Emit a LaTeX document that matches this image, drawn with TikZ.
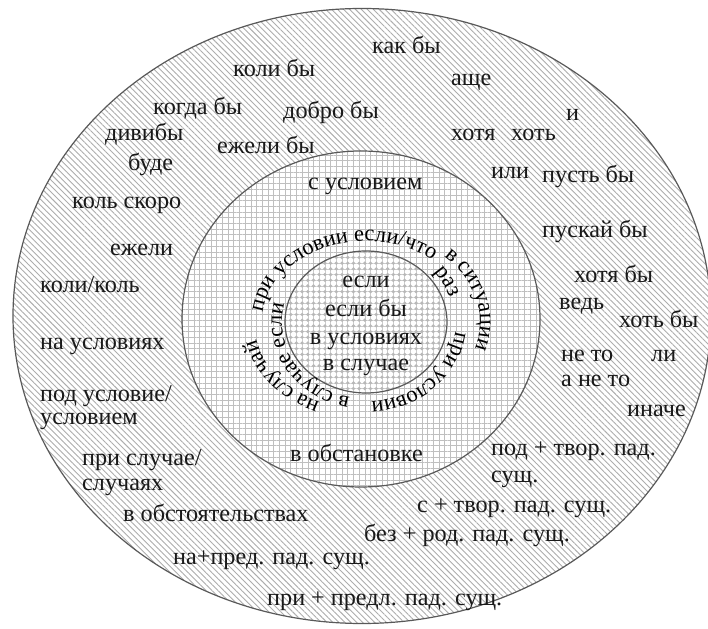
\documentclass[tikz,border=0pt]{standalone}
\usepackage{fontspec}
\setmainfont{Liberation Serif}
\usetikzlibrary{patterns.meta,decorations.text}
\newcommand\mylbl{\fontsize{24.2}{27}\selectfont}
\newcommand\myarc{\fontsize{22.5}{26}\selectfont}
\begin{document}
\begin{tikzpicture}[x=1pt,y=1pt,
  lbl/.style={anchor=base west, inner sep=0pt, font=\mylbl, text=black!90},
  ctr/.style={anchor=base, inner sep=0pt, font=\mylbl, text=black!90},
  rim/.style={draw=black!65, line width=1.2pt},
  arctext/.style={decorate, decoration={text along path, text={|\myarc|#1}, text align=center}}]
\useasboundingbox (0,0) rectangle (708,628);
\clip (0,0) rectangle (708,628);
\fill[white] (0,0) rectangle (708,628);
% outer ring
\path[pattern={Lines[angle=-45,distance=4.2pt,line width=0.9pt]}, pattern color=black!32] (362,312) ellipse[x radius=349, y radius=307.5];
\draw[rim] (362,312) ellipse[x radius=349, y radius=307.5];
% middle ring
\fill[white] (361,309) ellipse[x radius=179, y radius=168];
\path[pattern={Hatch[distance=5.7pt,line width=0.5pt]}, pattern color=black!25] (361,309) ellipse[x radius=179, y radius=168];
\draw[rim] (361,309) ellipse[x radius=179, y radius=168];
% inner
\fill[white] (366,306) ellipse[x radius=81, y radius=71];
\path[pattern={Hatch[distance=5.7pt,line width=0.5pt]}, pattern color=black!20] (366,306) ellipse[x radius=81, y radius=71];
\path[pattern={Dots[distance=5.7pt,radius=1.8pt]}, pattern color=black!28] (366,306) ellipse[x radius=81, y radius=71];
\draw[rim] (366,306) ellipse[x radius=81, y radius=71];

% centre words
\node[ctr] (c1) at (366,340) {если};
\node[ctr] (c2) at (366,311) {если бы};
\node[ctr] (c3) at (366,283) {в условиях};
\node[ctr] (c4) at (366,257) {в случае};

% arc texts
\begin{scope}[shift={(366,306)}]
\path[arctext={при условии если/что}] (185:104 and 81) arc[start angle=185, end angle=40, x radius=104, y radius=81];
\path[arctext={в ситуации}] (58:114 and 90) arc[start angle=58, end angle=-30, x radius=114, y radius=90];
\path[arctext={раз}] (45:88 and 80) arc[start angle=45, end angle=11, x radius=88, y radius=80];
\path[arctext={при условии}] (6:90 and 80) arc[start angle=6, end angle=-98, x radius=90, y radius=80];
\path[arctext={в случае если}] (278:84 and 77) arc[start angle=278, end angle=146, x radius=84, y radius=77];
\path[arctext={на случай}] (258:112 and 88) arc[start angle=258, end angle=176, x radius=112, y radius=88];
\end{scope}

% middle ring words
\node[lbl] (suslov) at (308,438) {с условием};
\node[lbl] (vobstan) at (290,166) {в обстановке};

% outer ring words
\node[lbl] (kak) at (372,574) {как бы};
\node[lbl] (koli) at (233,551) {коли бы};
\node[lbl] (ashche) at (451,542) {аще};
\node[lbl] (kogda) at (153,513) {когда бы};
\node[lbl] (dobro) at (283,509) {добро бы};
\node[lbl] (i) at (566,507) {и};
\node[lbl] (divi) at (105,487) {дивибы};
\node[lbl] (khotya) at (451,487) {хотя};
\node[lbl] (khot) at (511,487) {хоть};
\node[lbl] (ezhelib) at (217,474) {ежели бы};
\node[lbl] (bude) at (128,457) {буде};
\node[lbl] (ili) at (491,449) {или};
\node[lbl] (pust) at (542,445) {пусть бы};
\node[lbl] (kolsk) at (72,419) {коль скоро};
\node[lbl] (puskai) at (542,390) {пускай бы};
\node[lbl] (ezheli) at (110,372) {ежели};
\node[lbl] (khotyab) at (574,345) {хотя бы};
\node[lbl] (kolikol) at (40,335) {коли/коль};
\node[lbl] (ved) at (559,318) {ведь};
\node[lbl] (khotb) at (619,300) {хоть бы};
\node[lbl] (nauslov) at (40,278) {на условиях};
\node[lbl] (neto) at (561,266) {не то};
\node[lbl] (li) at (651,266) {ли};
\node[lbl] (aneto) at (561,241) {а не то};
\node[lbl] (pod1) at (40,226) {под условие/};
\node[lbl] (pod2) at (40,203) {условием};
\node[lbl] (inache) at (627,211) {иначе};
\node[lbl] (podtv1) at (491,172) {под + твор. пад.};
\node[lbl] (prisl1) at (82,162) {при случае/};
\node[lbl] (podtv2) at (491,145) {сущ.};
\node[lbl] (prisl2) at (82,137) {случаях};
\node[lbl] (stv) at (417,115) {с + твор. пад. сущ.};
\node[lbl] (vobst) at (123,106) {в обстоятельствах};
\node[lbl] (bez) at (364,86) {без + род. пад. сущ.};
\node[lbl] (napred) at (173,63) {на+пред. пад. сущ.};
\node[lbl] (pripred) at (267,23) {при + предл. пад. сущ.};
\end{tikzpicture}
\end{document}
